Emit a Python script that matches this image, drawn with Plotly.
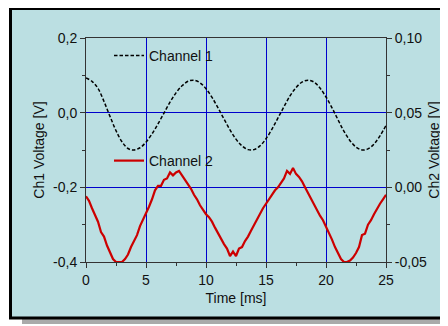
import plotly.graph_objects as go

# ---------------- data ----------------
time_ch1 = [0.0, 0.5, 1.0, 1.5, 2.0, 2.5, 3.0, 3.5, 4.0, 4.5,
            5.0, 5.5, 6.0, 6.5, 7.0, 7.5, 8.0, 8.5, 9.0, 9.5,
            10.0, 10.5, 11.0, 11.5, 12.0, 12.5, 13.0, 13.5, 14.0, 14.5,
            15.0, 15.5, 16.0, 16.5, 17.0, 17.5, 18.0, 18.5, 19.0, 19.5,
            20.0, 20.5, 21.0, 21.5, 22.0, 22.5, 23.0, 23.5, 24.0, 24.5,
            25.0]
ch1_volts = [0.093, 0.084, 0.065, 0.030, -0.010, -0.048, -0.078, -0.096, -0.100, -0.094,
             -0.079, -0.057, -0.030, -0.001, 0.028, 0.053, 0.072, 0.084, 0.087, 0.080,
             0.064, 0.041, 0.013, -0.017, -0.046, -0.071, -0.089, -0.099, -0.099, -0.089,
             -0.070, -0.044, -0.014, 0.016, 0.045, 0.067, 0.082, 0.087, 0.082, 0.066,
             0.042, 0.013, -0.019, -0.050, -0.075, -0.092, -0.100, -0.097, -0.084, -0.062,
             -0.034]

time_ch2 = [0.0, 0.25, 0.5, 0.75, 1.0, 1.25, 1.5, 1.75, 2.0, 2.25,
            2.5, 2.75, 3.0, 3.25, 3.5, 3.75, 4.0, 4.25, 4.5, 4.75,
            5.0, 5.25, 5.5, 5.75, 6.0, 6.25, 6.5, 6.75, 7.0, 7.25,
            7.5, 7.75, 8.0, 8.25, 8.5, 8.75, 9.0, 9.25, 9.5, 9.75,
            10.0, 10.25, 10.5, 10.75, 11.0, 11.25, 11.5, 11.75, 12.0, 12.25,
            12.5, 12.75, 13.0, 13.25, 13.5, 13.75, 14.0, 14.25, 14.5, 14.75,
            15.0, 15.25, 15.5, 15.75, 16.0, 16.25, 16.5, 16.75, 17.0, 17.25,
            17.5, 17.75, 18.0, 18.25, 18.5, 18.75, 19.0, 19.25, 19.5, 19.75,
            20.0, 20.25, 20.5, 20.75, 21.0, 21.25, 21.5, 21.75, 22.0, 22.25,
            22.5, 22.75, 23.0, 23.25, 23.5, 23.75, 24.0, 24.25, 24.5, 24.75,
            25.0]
ch2_volts = [-0.006, -0.009, -0.014, -0.018, -0.023, -0.030, -0.033, -0.039, -0.044, -0.048,
             -0.050, -0.050, -0.050, -0.048, -0.045, -0.040, -0.036, -0.032, -0.026, -0.022,
             -0.017, -0.013, -0.008, -0.002, 0.001, 0.001, 0.005, 0.006, 0.010, 0.008,
             0.010, 0.011, 0.008, 0.005, 0.002, -0.001, -0.005, -0.008, -0.012, -0.015,
             -0.018, -0.020, -0.023, -0.027, -0.031, -0.035, -0.038, -0.041, -0.046, -0.043,
             -0.046, -0.041, -0.040, -0.036, -0.033, -0.029, -0.025, -0.021, -0.017, -0.014,
             -0.011, -0.008, -0.005, -0.002, 0.000, 0.003, 0.006, 0.011, 0.009, 0.013,
             0.009, 0.007, 0.004, 0.000, -0.004, -0.008, -0.012, -0.015, -0.019, -0.022,
             -0.026, -0.031, -0.035, -0.040, -0.044, -0.048, -0.050, -0.050, -0.049, -0.047,
             -0.044, -0.040, -0.032, -0.031, -0.025, -0.022, -0.018, -0.014, -0.011, -0.008,
             -0.005]

x_ticks = [0, 5, 10, 15, 20, 25]
x_tick_labels = ["0", "5", "10", "15", "20", "25"]
y1_ticks = [-0.4, -0.2, 0.0, 0.2]
y1_tick_labels = ["-0,4", "-0,2", "0,0", "0,2"]
y2_ticks = [-0.05, 0.0, 0.05, 0.10]
y2_tick_labels = ["-0,05", "0,00", "0,05", "0,10"]

# ---------------- style ----------------
FONT = "Liberation Sans, Arial, sans-serif"
PANEL = "#BBDFE2"
GRID = "#0000CC"
AXIS = "#333333"

OFF = 8                      # page body margin of the html page
W, H = 440, 318              # figure size (page is 448x326)
ML, MR, MT, MB = 78, 62, 30, 64
PW, PH = W - ML - MR, H - MT - MB


def px(page_x):
    return (page_x - OFF - ML) / PW


def py(page_y):
    return (H - MB - (page_y - OFF)) / PH


fig = go.Figure()
fig.add_trace(go.Scatter(
    x=time_ch1, y=ch1_volts, name="Channel 1", mode="lines", showlegend=True,
    line=dict(color="black", width=1.5, dash="3.5px,2px", shape="spline"),
    yaxis="y", legend="legend"))
fig.add_trace(go.Scatter(
    x=time_ch2, y=ch2_volts, name="Channel 2", mode="lines", showlegend=True,
    line=dict(color="#CC0000", width=2.2),
    yaxis="y2", legend="legend2"))

axis_common = dict(showline=True, linecolor=AXIS, linewidth=1,
                   ticks="outside", ticklen=5, tickcolor=AXIS,
                   tickfont=dict(family=FONT, size=14, color="#111"),
                   zeroline=False, automargin=False)

fig.update_layout(
    width=W, height=H, autosize=False, showlegend=True,
    margin=dict(l=ML, r=MR, t=MT, b=MB, pad=0),
    paper_bgcolor="white", plot_bgcolor="rgba(0,0,0,0)",
    font=dict(family=FONT, size=14, color="#111"),
    xaxis=dict(range=[0, 25], tickmode="array", tickvals=x_ticks, ticktext=x_tick_labels,
               showgrid=True, gridcolor=GRID, gridwidth=1, mirror=True,
               minor=dict(tickmode="linear", tick0=0, dtick=2.5, ticks="outside",
                          ticklen=3, tickcolor=AXIS, showgrid=False),
               title=dict(text="Time [ms]", standoff=6,
                          font=dict(family=FONT, size=14, color="#111")),
               **axis_common),
    yaxis=dict(range=[-0.4, 0.2], tickmode="array", tickvals=y1_ticks, ticktext=y1_tick_labels,
               showgrid=True, gridcolor=GRID, gridwidth=1,
               minor=dict(tickmode="linear", tick0=0, dtick=0.1, ticks="outside",
                          ticklen=3, tickcolor=AXIS, showgrid=False),
               title=dict(text="Ch1 Voltage [V]", standoff=5,
                          font=dict(family=FONT, size=14, color="#111")),
               **axis_common),
    yaxis2=dict(range=[-0.05, 0.10], tickmode="array", tickvals=y2_ticks, ticktext=y2_tick_labels,
                overlaying="y", side="right", showgrid=False,
                minor=dict(tickmode="linear", tick0=0, dtick=0.025, ticks="outside",
                           ticklen=3, tickcolor=AXIS, showgrid=False),
                title=dict(text="Ch2 Voltage [V]", standoff=3,
                           font=dict(family=FONT, size=14, color="#111")),
                **axis_common),
    legend=dict(x=px(109), y=py(56), xanchor="left", yanchor="middle",
                bgcolor="rgba(0,0,0,0)", borderwidth=0,
                font=dict(family=FONT, size=14, color="#111")),
    legend2=dict(x=px(109), y=py(161), xanchor="left", yanchor="middle",
                 bgcolor="rgba(0,0,0,0)", borderwidth=0,
                 font=dict(family=FONT, size=14, color="#111")),
    shapes=[
        dict(type="rect", xref="paper", yref="paper", layer="below",
             x0=px(22), x1=px(470), y0=py(324), y1=py(14),
             fillcolor="#AAAAAA", line=dict(width=0)),
        dict(type="rect", xref="paper", yref="paper", layer="below",
             x0=px(10.5), x1=px(460), y0=py(318), y1=py(8.5),
             fillcolor=PANEL, line=dict(color="black", width=3)),
    ],
)

fig.write_html("out.html")
